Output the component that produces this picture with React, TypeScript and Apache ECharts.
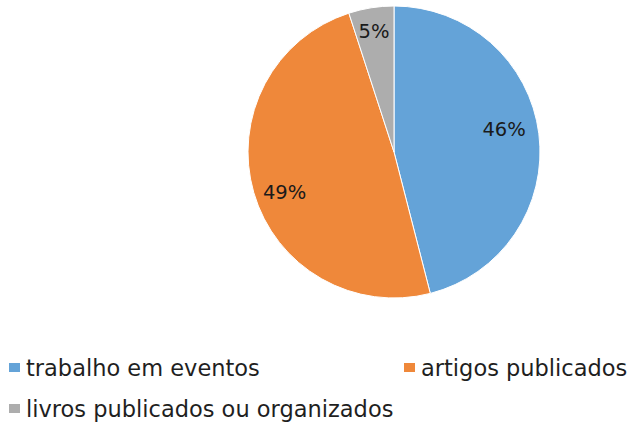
import React, { useEffect, useRef } from "react";
import * as echarts from "echarts";

const categories = ["trabalho em eventos", "artigos publicados", "livros publicados ou organizados"];
const values = [46, 49, 5];
const colors = ["#64A3D8", "#EF883A", "#ADADAD"];

const FONT = "DejaVu Sans";

export default function App() {
  const ref = useRef<HTMLDivElement>(null);
  useEffect(() => {
    const chart = echarts.init(ref.current!, undefined, { renderer: "svg" });
    const data = categories.map((name, i) => ({ name, value: values[i], itemStyle: { color: colors[i] } }));
    const legendCommon = {
      orient: "horizontal" as const,
      icon: "rect",
      itemWidth: 13,
      itemHeight: 11,
      itemGap: 10,
      padding: 0,
      textStyle: { fontFamily: FONT, fontSize: 22.5, color: "#1f1f1f" },
    };
    const labelShift = [
      [-4, -8],
      [1, 8],
      [-2, -7],
    ];
    chart.setOption({
      animation: false,
      backgroundColor: "#ffffff",
      legend: [
        { ...legendCommon, data: [categories[0]], left: 7, top: 356 },
        { ...legendCommon, data: [categories[1]], left: 402, top: 356 },
        { ...legendCommon, data: [categories[2]], left: 7, top: 397 },
      ],
      series: [
        {
          type: "pie",
          center: [394, 152],
          radius: [0, 146],
          startAngle: 90,
          clockwise: true,
          data,
          label: { show: false },
          labelLine: { show: false },
          itemStyle: { borderColor: "#ffffff", borderWidth: 1 },
          silent: true,
        },
        {
          type: "pie",
          center: [394, 152],
          radius: [78, 146],
          startAngle: 90,
          clockwise: true,
          data: categories.map((name, i) => ({ name, value: values[i] })),
          itemStyle: { color: "rgba(0,0,0,0)" },
          label: {
            show: true,
            position: "inside",
            formatter: "{c}%",
            fontFamily: FONT,
            fontSize: 19.5,
            color: "#1a1a1a",
          },
          labelLayout: (p: any) => ({ dx: labelShift[p.dataIndex][0], dy: labelShift[p.dataIndex][1] }),
          labelLine: { show: false },
          silent: true,
          legendHoverLink: false,
        },
      ],
    });
    return () => chart.dispose();
  }, []);
  return <div ref={ref} style={{ position: "fixed", left: 0, top: 0, width: 629, height: 427 }} />;
}
